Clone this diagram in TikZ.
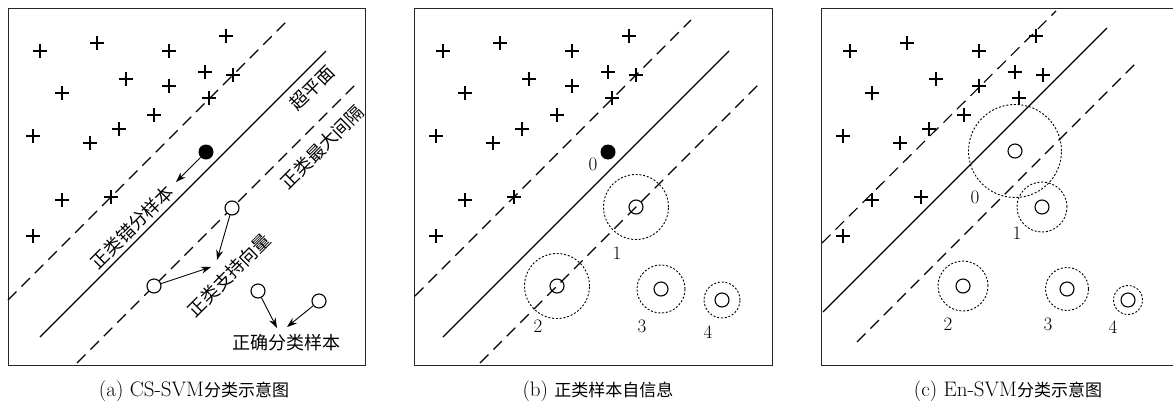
\documentclass[tikz,border=0pt]{standalone}
\usepackage{fontspec}
\newfontfamily\cjk{Noto Sans CJK SC}
\usetikzlibrary{arrows.meta, positioning}

% plus samples, relative to the panel origin
\newcommand{\pluspts}{29/51, 86/43, 158/51, 215/36, 115/79, 158/86, 194/72, 222/75,
  51/93, 198/98, 143/115, 108/129, 22/136, 79/143, 51/200, 100/197, 22/236}
\newcommand{\capcjk}{\fontsize{17}{20}\selectfont\cjk}

\begin{document}
\begin{tikzpicture}[x=1pt, y=-1pt,
  panelframe/.style={draw=black!85, line width=1pt},
  plusmark/.style={inner sep=0pt, minimum size=14pt,
    path picture={\draw[line width=1.1pt] (path picture bounding box.north) -- (path picture bounding box.south)
      (path picture bounding box.west) -- (path picture bounding box.east);}},
  opt/.style={circle, draw, line width=1.1pt, inner sep=0pt, minimum size=14pt},
  errpt/.style={circle, fill=black, inner sep=0pt, minimum size=15pt},
  halo/.style={circle, draw, line width=0.9pt, dash pattern=on 2pt off 1.8pt,
               inner sep=0pt, minimum size=#1},
  sep/.style={line width=1.1pt, dash pattern=on 12pt off 7pt},
  hyper/.style={line width=1.2pt},
  arr/.style={-{Stealth[length=10pt, width=7pt]}, line width=0.9pt},
  lbl/.style={font=\fontsize{18}{20}\selectfont\cjk, inner sep=1pt},
  num/.style={font=\fontsize{19}{21}\selectfont, inner sep=0pt},
  captext/.style={font=\fontsize{21}{24}\selectfont, inner sep=0pt}
]
\useasboundingbox (0,0) rectangle (1173,405);

% frames
\draw[panelframe] (8,8) rectangle (365,365);
\draw[panelframe] (414,8) rectangle (772,365);
\draw[panelframe] (821,8) rectangle (1178,365);

% (a) CS-SVM
\begin{scope}[xshift=11pt]
\foreach \x/\y [count=\i] in \pluspts {\node[plusmark] (pa\i) at (\x,\y) {};}
\coordinate (ua1) at (-3,300);  \coordinate (ua2) at (277,20);
\coordinate (ha1) at (29,337);  \coordinate (ha2) at (315,51);
\coordinate (la1) at (66,363);  \coordinate (la2) at (347,82);
\draw[sep]   (ua1) -- (ua2);
\draw[hyper] (ha1) -- (ha2);
\draw[sep]   (la1) -- (la2);

\node[errpt]             (da)  at (195,152) {};
\node[opt, fill=white]   (sv1) at (221,208) {};
\node[opt, fill=white]   (sv2) at (143,286) {};
\node[opt]               (ok1) at (247,291) {};
\node[opt]               (ok2) at (308,301) {};

\node[lbl, rotate=45] (lmis) at (121,227) {正类错分样本};
\node[lbl, rotate=45] (lhyp) at (301,88)  {超平面};
\node[lbl, rotate=45] (lmar) at (311,147) {正类最大间隔};
\node[lbl, rotate=45] (lsv)  at (218,275) {正类支持向量};
\node[lbl]            (lok)  at (275,343) {正确分类样本};

\coordinate (tmis) at (165,182);
\coordinate (tsv1) at (206,260);
\coordinate (tsv2) at (200,267);
\coordinate (tok1) at (266,328);
\coordinate (tok2) at (276,327);
\draw[arr] (da)  -- (tmis);
\draw[arr] (sv1) -- (tsv1);
\draw[arr] (sv2) -- (tsv2);
\draw[arr] (ok1) -- (tok1);
\draw[arr] (ok2) -- (tok2);

\node[captext] (capa) at (183,391) {(a) CS-SVM{\capcjk 分类示意图}};
\end{scope}

% (b) self-information of positive samples
\begin{scope}[xshift=414pt]
\foreach \x/\y [count=\i] in \pluspts {\node[plusmark] (pb\i) at (\x,\y) {};}
\coordinate (ub1) at (1,296);   \coordinate (ub2) at (277,20);
\coordinate (hb1) at (29,337);  \coordinate (hb2) at (315,51);
\coordinate (lb1) at (66,363);  \coordinate (lb2) at (348,81);
\draw[sep]   (ub1) -- (ub2);
\draw[hyper] (hb1) -- (hb2);
\draw[sep]   (lb1) -- (lb2);

\node[errpt] (db) at (194,152) {};
\node[opt]   (b1) at (222,207) {};
\node[opt]   (b2) at (143,286) {};
\node[opt]   (b3) at (247,289) {};
\node[opt]   (b4) at (308,300) {};
\node[halo=65pt] (rb1) at (b1) {};
\node[halo=65pt] (rb2) at (b2) {};
\node[halo=48pt] (rb3) at (b3) {};
\node[halo=36pt] (rb4) at (b4) {};

\node[num] (nb0) at (179,164) {0};
\node[num] (nb1) at (203,253) {1};
\node[num] (nb2) at (124,326) {2};
\node[num] (nb3) at (228,326) {3};
\node[num] (nb4) at (294,332) {4};

\node[captext] (capb) at (184,391) {(b) {\capcjk 正类样本自信息}};
\end{scope}

% (c) En-SVM
\begin{scope}[xshift=821pt]
\foreach \x/\y [count=\i] in \pluspts {\node[plusmark] (pc\i) at (\x,\y) {};}
\coordinate (uc1) at (1,243);   \coordinate (uc2) at (235,11);
\coordinate (hc1) at (2,312);   \coordinate (hc2) at (286,28);
\coordinate (lc1) at (36,342);  \coordinate (lc2) at (317,61);
\draw[sep]   (uc1) -- (uc2);
\draw[hyper] (hc1) -- (hc2);
\draw[sep]   (lc1) -- (lc2);

\node[opt] (c0) at (194,151) {};
\node[opt] (c1) at (221,207) {};
\node[opt] (c2) at (142,286) {};
\node[opt] (c3) at (246,289) {};
\node[opt] (c4) at (307,300) {};
\node[halo=93pt] (rc0) at (c0) {};
\node[halo=50pt] (rc1) at (c1) {};
\node[halo=50pt] (rc2) at (c2) {};
\node[halo=43pt] (rc3) at (c3) {};
\node[halo=29pt] (rc4) at (c4) {};

\node[num] (nc0) at (154,197) {0};
\node[num] (nc1) at (196,233) {1};
\node[num] (nc2) at (127,324) {2};
\node[num] (nc3) at (227,324) {3};
\node[num] (nc4) at (292,327) {4};

\node[captext] (capc) at (187,391) {(c) En-SVM{\capcjk 分类示意图}};
\end{scope}
\end{tikzpicture}
\end{document}
